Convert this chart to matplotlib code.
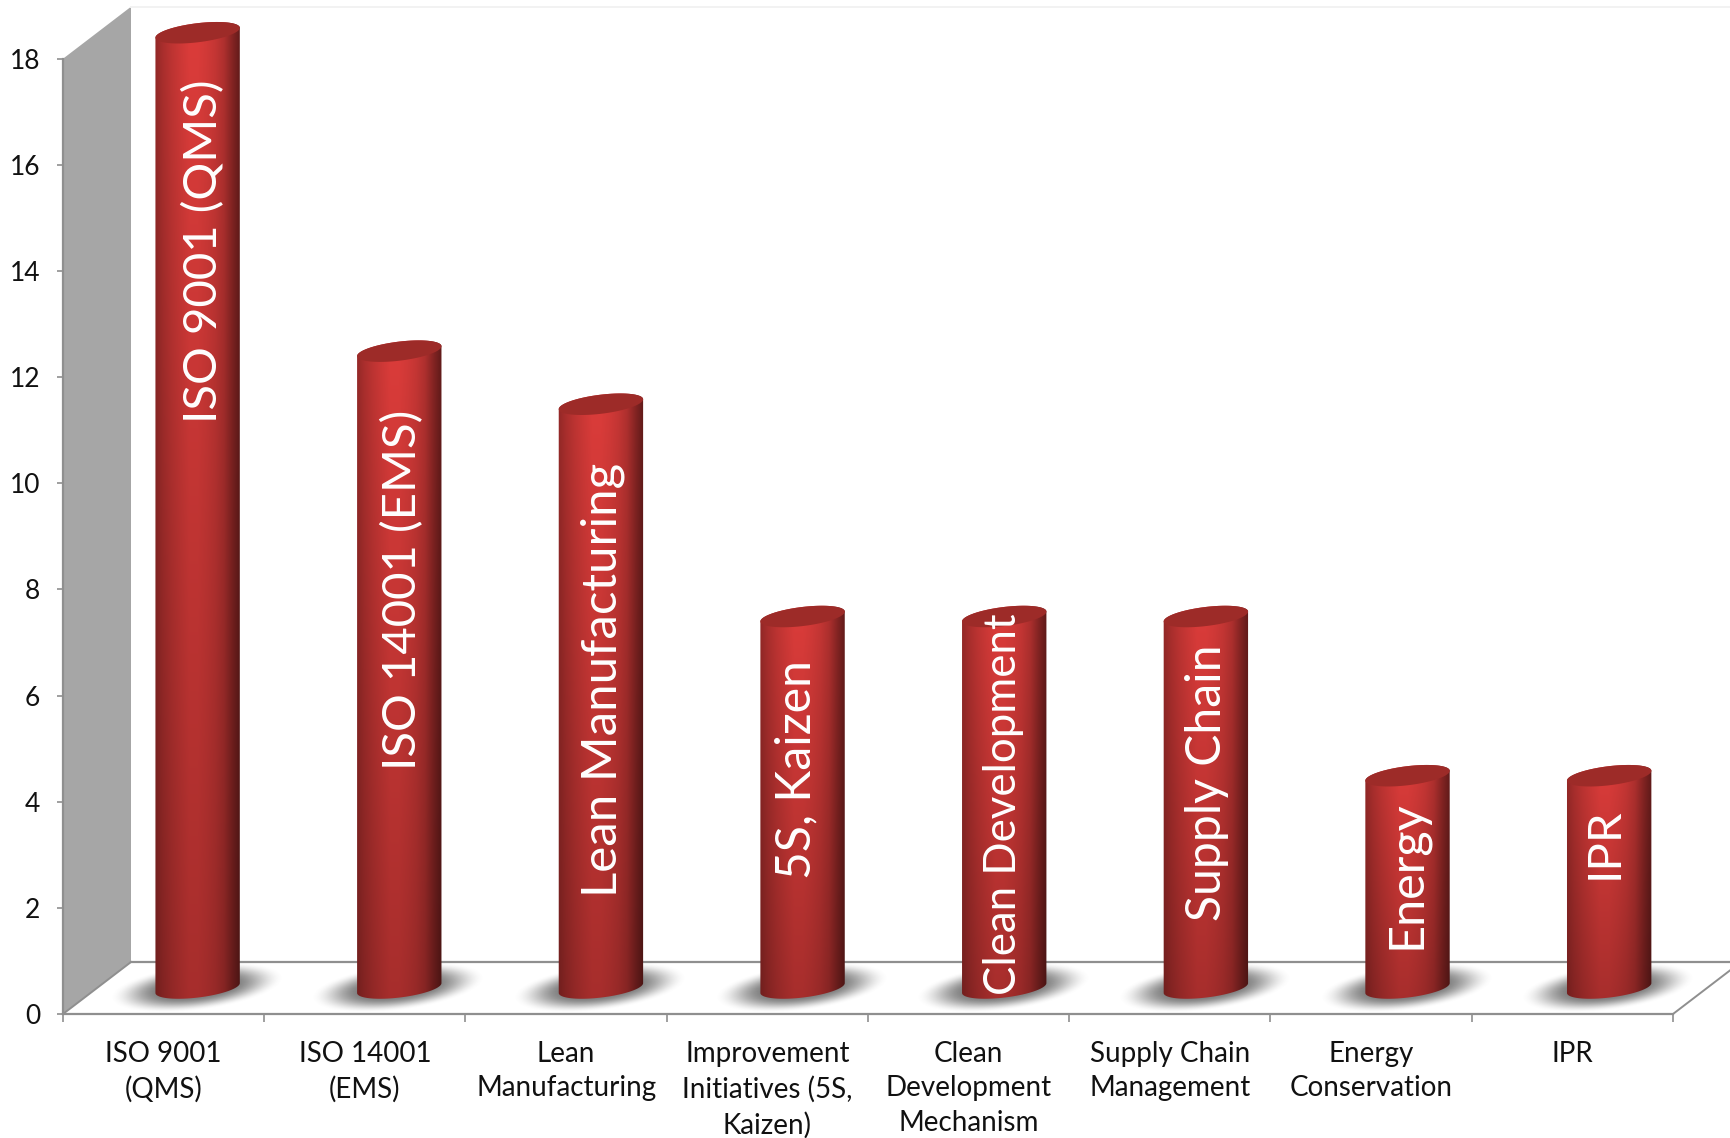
import numpy as np
import matplotlib
matplotlib.use('Agg')
import matplotlib.pyplot as plt
from matplotlib.patches import Polygon

plt.rcParams['font.family'] = ['Lato', 'DejaVu Sans']

categories = ['ISO 9001\n(QMS)', 'ISO 14001\n(EMS)', 'Lean\nManufacturing',
              'Improvement\nInitiatives (5S,\nKaizen)', 'Clean\nDevelopment\nMechanism',
              'Supply Chain\nManagement', 'Energy\nConservation', 'IPR']
values = [18, 12, 11, 7, 7, 7, 4, 4]
inner_labels = ['ISO 9001 (QMS)', 'ISO 14001 (EMS)', 'Lean Manufacturing', '5S, Kaizen',
                'Clean Development', 'Supply Chain', 'Energy', 'IPR']
# middle of each label along the bar, in axis units
inner_label_mid = [14.38, 8.0, 6.29, 4.6, 3.96, 4.35, 2.62, 3.22]
inner_label_size = [34, 34, 35.5, 34.7, 31.5, 34.7, 35, 34]
inner_label_shift = [6, 3, 2, -6, -1, 1, -1, -5]

# one category = 201.25 px, one y unit = 53.07 px
PX, PY = 201.25, 53.07
W, H = 1731, 1138
X0, Y0 = 63, 1014

fig = plt.figure(figsize=(W / 100, H / 100), dpi=100)
ax = fig.add_axes([0, 0, 1, 1])
xlim = (-X0 / PX, (W - X0) / PX)
ylim = ((Y0 - H) / PY, Y0 / PY)

depth_x, depth_y = 68 / PX, 52 / PY
floor = '#8f8f8f'

# side wall and floor edges
ax.add_patch(Polygon([(0, 0), (depth_x, depth_y), (depth_x, 18 + depth_y), (0, 18)],
                     closed=True, fc='#a6a6a6', ec='none', zorder=1))
ax.plot([depth_x, 8 + depth_x], [depth_y, depth_y], color=floor, lw=1.6, zorder=1.5)
ax.plot([0, depth_x], [0, depth_y], color=floor, lw=1.4, zorder=1.5)
ax.plot([8, 8 + depth_x], [0, depth_y], color=floor, lw=1.4, zorder=1.5)
ax.plot([depth_x, 9], [18 + depth_y] * 2, color='#f2f2f2', lw=1.4, zorder=1)


def tilted(cx, cy, a, b, tilt, n=120):
    t = np.linspace(0, 2 * np.pi, n, endpoint=False)
    th = np.radians(tilt)
    xp = a * np.cos(t) * np.cos(th) - b * np.sin(t) * np.sin(th)
    yp = a * np.cos(t) * np.sin(th) + b * np.sin(t) * np.cos(th)
    return cx + xp / PX, cy + yp / PY, xp, yp


a, b, tilt = 42.5, 9.5, 7
hprof = np.array([0.66, 0.78, 0.87, 0.94, 1.0, 1.0, 0.96, 0.9, 0.8, 0.6, 0.42])
base_rgb = np.array([219, 60, 58]) / 255

xs = np.arange(len(values)) + 0.5
for i, (x, v) in enumerate(zip(xs, values)):
    # the bars run very slightly wider than the ticks
    cx = x + depth_x / 2 + i * 0.4 / PX
    cy = depth_y / 2

    # soft shadow on the floor
    sx = np.linspace(-110, 110, 220)
    sy = np.linspace(-40, 40, 80)
    gx, gy = np.meshgrid(sx, sy)
    th = np.radians(7)
    u = (gx * np.cos(th) + gy * np.sin(th)) / 88
    w = (-gx * np.sin(th) + gy * np.cos(th)) / 23
    r = np.sqrt(u ** 2 + w ** 2)
    s = np.clip((1.0 - r) / 0.6, 0, 1)
    alpha = s * s * (3 - 2 * s) * 0.85
    rgba = np.zeros(gx.shape + (4,))
    rgba[..., :3] = 0.4
    rgba[..., 3] = alpha
    ax.imshow(rgba, extent=(cx + (-1 - 110) / PX, cx + (-1 + 110) / PX,
                            cy + (-40) / PY, cy + 40 / PY),
              origin='lower', aspect='auto', zorder=2, interpolation='bilinear')

    # cylinder body
    bx, by, xp, yp = tilted(cx, cy, a, b, tilt)
    tx, ty, _, _ = tilted(cx, cy + v, a, b, tilt)
    right, left = np.argmax(xp), np.argmin(xp)
    idx = np.arange(left, right + 1 if right > left else right + 121) % 120
    lower = np.column_stack([bx[idx], by[idx]])
    idx2 = np.arange(right, left + 1 if left > right else left + 121) % 120
    upper = np.column_stack([tx[idx2], ty[idx2]])
    body = np.vstack([lower, upper])
    clip = Polygon(body, closed=True, transform=ax.transData)

    n = 200
    hh = np.interp(np.linspace(0, 1, 90), np.linspace(0, 1, len(hprof)), hprof)
    vv = np.linspace(0.76, 1.0, n)
    img = (vv[:, None, None] * hh[None, :, None]) * base_rgb[None, None, :]
    ext = (cx - 44 / PX, cx + 44 / PX, cy - 14 / PY, cy + v + 14 / PY)
    im = ax.imshow(np.clip(img, 0, 1), extent=ext, origin='lower', aspect='auto',
                   zorder=3, interpolation='bilinear')
    im.set_clip_path(clip)

    # top cap
    ax.add_patch(Polygon(np.column_stack([tx, ty]), closed=True, fc='#9d2b28', ec='none', zorder=4))

    ax.text(cx + inner_label_shift[i] / PX, inner_label_mid[i], inner_labels[i], rotation=90,
            color='white', ha='center', va='center', fontsize=inner_label_size[i], zorder=5)

ax.set_xlim(xlim)
ax.set_ylim(ylim)

for name in ['top', 'right']:
    ax.spines[name].set_visible(False)
ax.spines['left'].set_position(('data', 0))
ax.spines['bottom'].set_position(('data', 0))
ax.spines['left'].set_bounds(0, 18)
ax.spines['bottom'].set_bounds(0, 8)
ax.spines['left'].set_color(floor)
ax.spines['bottom'].set_color(floor)
ax.spines['left'].set_linewidth(1.6)
ax.spines['bottom'].set_linewidth(1.6)

ax.set_yticks(range(0, 19, 2))
ax.tick_params(axis='y', length=4.5, width=1.2, color=floor, labelsize=19, pad=12, labelcolor='#111111')
ax.set_xticks(range(9))
ax.set_xticklabels([])
ax.tick_params(axis='x', which='major', length=6, width=1.2, color=floor)
ax.set_xticks(xs, minor=True)
ax.set_xticklabels(categories, minor=True, linespacing=1.40)
ax.tick_params(axis='x', which='minor', length=0, labelsize=20, pad=19.5, labelcolor='#111111')

fig.savefig('out.png', dpi=100)
